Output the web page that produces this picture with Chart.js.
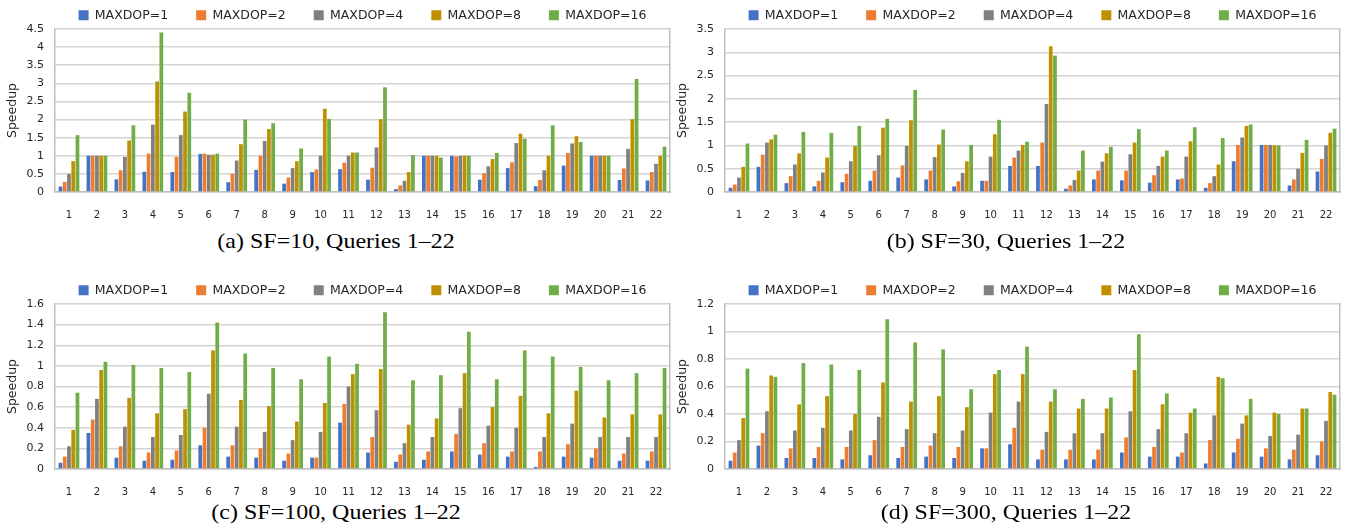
<!DOCTYPE html>
<html>
<head>
<meta charset="utf-8">
<script src="https://cdn.jsdelivr.net/npm/chart.js@4.4.1/dist/chart.umd.min.js"></script>
<style>
  body { margin: 0; overflow: hidden; background: #fff; }
  #page { position: relative; width: 1348px; height: 529px; overflow: hidden; }
  canvas { position: absolute; }
  .cap {
    position: absolute; width: 400px; height: 24px; line-height: 24px;
    text-align: center; font-family: "Liberation Serif", serif; font-size: 22px;
    color: #000; transform: scaleX(1.09); white-space: nowrap;
  }
</style>
</head>
<body>
<div id="page">
  <canvas id="sf10" width="725" height="239" style="left:0;top:-19px"></canvas>
  <canvas id="sf30" width="725" height="239" style="left:670px;top:-19px"></canvas>
  <canvas id="sf100" width="725" height="241" style="left:0;top:256px"></canvas>
  <canvas id="sf300" width="725" height="241" style="left:670px;top:256px"></canvas>
  <div class="cap" style="left:136px;top:229px">(a) SF=10, Queries 1–22</div>
  <div class="cap" style="left:806px;top:229px">(b) SF=30, Queries 1–22</div>
  <div class="cap" style="left:136px;top:500px">(c) SF=100, Queries 1–22</div>
  <div class="cap" style="left:806px;top:500px">(d) SF=300, Queries 1–22</div>
</div>
<script>
// categories and series
const queries = ["1", "2", "3", "4", "5", "6", "7", "8", "9", "10", "11",
                 "12", "13", "14", "15", "16", "17", "18", "19", "20", "21", "22"];
const seriesNames = ["MAXDOP=1", "MAXDOP=2", "MAXDOP=4", "MAXDOP=8", "MAXDOP=16"];
const colors = ["#4472C4", "#ED7D31", "#808080", "#BF9000", "#70AD47"];

// y axis ranges per panel (a, b, c, d)
const yMax = [4.5, 3.5, 1.6, 1.2];
const yStep = [0.5, 0.5, 0.2, 0.2];

// SF=10
const sf10Dop1 = [0.15, 1.0, 0.35, 0.56, 0.55, 1.05, 0.27, 0.61, 0.23, 0.55, 0.63, 0.34, 0.08, 1.0, 1.0, 0.34, 0.66, 0.16, 0.73, 1.0, 0.33, 0.32];
const sf10Dop2 = [0.28, 1.0, 0.6, 1.06, 0.97, 1.06, 0.5, 1.0, 0.4, 0.62, 0.81, 0.67, 0.18, 1.0, 0.98, 0.52, 0.82, 0.33, 1.08, 1.0, 0.65, 0.55];
const sf10Dop4 = [0.5, 1.0, 0.97, 1.86, 1.57, 1.03, 0.87, 1.41, 0.66, 1.0, 1.0, 1.23, 0.31, 1.0, 1.0, 0.71, 1.35, 0.6, 1.34, 1.0, 1.19, 0.78];
const sf10Dop8 = [0.85, 1.0, 1.42, 3.05, 2.22, 1.03, 1.32, 1.74, 0.85, 2.3, 1.09, 2.01, 0.55, 1.0, 1.0, 0.91, 1.61, 1.0, 1.54, 1.0, 2.01, 1.0];
const sf10Dop16 = [1.57, 1.0, 1.84, 4.4, 2.74, 1.06, 2.0, 1.9, 1.2, 2.02, 1.09, 2.89, 1.02, 0.95, 1.0, 1.08, 1.47, 1.84, 1.38, 1.0, 3.12, 1.25];

// SF=30
const sf30Dop1 = [0.09, 0.54, 0.19, 0.12, 0.21, 0.24, 0.31, 0.27, 0.12, 0.24, 0.56, 0.56, 0.07, 0.27, 0.25, 0.2, 0.27, 0.09, 0.66, 1.01, 0.14, 0.44];
const sf30Dop2 = [0.16, 0.8, 0.34, 0.24, 0.39, 0.46, 0.57, 0.46, 0.23, 0.24, 0.74, 1.06, 0.14, 0.46, 0.46, 0.36, 0.29, 0.19, 1.01, 1.01, 0.27, 0.71];
const sf30Dop4 = [0.31, 1.06, 0.59, 0.42, 0.66, 0.79, 0.99, 0.75, 0.41, 0.76, 0.89, 1.89, 0.26, 0.65, 0.81, 0.56, 0.76, 0.34, 1.17, 1.01, 0.5, 1.0];
const sf30Dop8 = [0.54, 1.13, 0.83, 0.74, 0.99, 1.38, 1.54, 1.02, 0.66, 1.24, 1.01, 3.13, 0.46, 0.83, 1.06, 0.76, 1.09, 0.59, 1.42, 1.0, 0.84, 1.27];
const sf30Dop16 = [1.04, 1.23, 1.29, 1.27, 1.42, 1.57, 2.19, 1.34, 1.01, 1.55, 1.08, 2.93, 0.89, 0.97, 1.35, 0.89, 1.39, 1.16, 1.45, 1.0, 1.12, 1.36];

// SF=100
const sf100Dop1 = [0.06, 0.35, 0.11, 0.08, 0.09, 0.23, 0.12, 0.11, 0.08, 0.11, 0.45, 0.16, 0.07, 0.09, 0.17, 0.14, 0.12, 0.02, 0.12, 0.11, 0.08, 0.08];
const sf100Dop2 = [0.12, 0.48, 0.22, 0.16, 0.18, 0.4, 0.23, 0.2, 0.15, 0.11, 0.63, 0.31, 0.14, 0.17, 0.34, 0.25, 0.17, 0.17, 0.24, 0.2, 0.15, 0.17];
const sf100Dop4 = [0.22, 0.68, 0.41, 0.31, 0.33, 0.73, 0.41, 0.36, 0.28, 0.36, 0.8, 0.57, 0.25, 0.31, 0.59, 0.42, 0.4, 0.31, 0.44, 0.31, 0.31, 0.31];
const sf100Dop8 = [0.38, 0.96, 0.69, 0.54, 0.58, 1.15, 0.67, 0.61, 0.46, 0.64, 0.92, 0.97, 0.43, 0.49, 0.93, 0.6, 0.71, 0.54, 0.76, 0.5, 0.53, 0.53];
const sf100Dop16 = [0.74, 1.04, 1.01, 0.98, 0.94, 1.42, 1.12, 0.98, 0.87, 1.09, 1.02, 1.52, 0.86, 0.91, 1.33, 0.87, 1.15, 1.09, 0.99, 0.86, 0.93, 0.98];

// SF=300
const sf300Dop1 = [0.06, 0.17, 0.08, 0.08, 0.07, 0.1, 0.08, 0.09, 0.08, 0.15, 0.18, 0.07, 0.07, 0.07, 0.12, 0.09, 0.09, 0.04, 0.12, 0.09, 0.07, 0.1];
const sf300Dop2 = [0.12, 0.26, 0.15, 0.16, 0.16, 0.21, 0.16, 0.17, 0.16, 0.15, 0.3, 0.14, 0.14, 0.14, 0.23, 0.16, 0.12, 0.21, 0.22, 0.15, 0.14, 0.2];
const sf300Dop4 = [0.21, 0.42, 0.28, 0.3, 0.28, 0.38, 0.29, 0.26, 0.28, 0.41, 0.49, 0.27, 0.26, 0.26, 0.42, 0.29, 0.26, 0.39, 0.33, 0.24, 0.25, 0.35];
const sf300Dop8 = [0.37, 0.68, 0.47, 0.53, 0.4, 0.63, 0.49, 0.53, 0.45, 0.69, 0.69, 0.49, 0.44, 0.44, 0.72, 0.47, 0.41, 0.67, 0.39, 0.41, 0.44, 0.56];
const sf300Dop16 = [0.73, 0.67, 0.77, 0.76, 0.72, 1.09, 0.92, 0.87, 0.58, 0.72, 0.89, 0.58, 0.51, 0.52, 0.98, 0.55, 0.44, 0.66, 0.51, 0.4, 0.44, 0.54];

Chart.defaults.font.family = "'DejaVu Sans', sans-serif";
const gridColor = "#d4d4d4";
const axisColor = "#bfbfbf";
const textColor = "#262626";

function makeChart(id, series, max, step) {
  return new Chart(document.getElementById(id), {
    type: "bar",
    data: {
      labels: queries,
      datasets: series.map((d, i) => ({
        label: seriesNames[i],
        data: d,
        backgroundColor: colors[i],
        borderWidth: 0,
        categoryPercentage: 0.76,
        barPercentage: 0.88,
      })),
    },
    options: {
      responsive: false,
      animation: false,
      layout: { padding: 0 },
      plugins: {
        tooltip: { enabled: false },
        legend: {
          position: "top",
          maxHeight: 48,
          labels: { boxWidth: 10, boxHeight: 10, padding: 28, color: textColor, font: { size: 12.5 } },
        },
      },
      scales: {
        x: {
          grid: { display: false },
          border: { color: axisColor, width: 1.5 },
          ticks: { color: textColor, font: { size: 10 }, padding: 9, maxRotation: 0, autoSkip: false },
          afterFit: (s) => { s.height = 28; },
        },
        y: {
          min: 0,
          max: max,
          ticks: {
            stepSize: step,
            padding: 11,
            color: textColor,
            font: { size: 11 },
            callback: (v) => String(Number(v.toFixed(1))),
          },
          grid: { color: gridColor, lineWidth: 1.5, drawTicks: false },
          border: { color: axisColor, width: 1.5 },
          title: { display: true, text: "Speedup", color: textColor, font: { size: 12.5 }, padding: { top: 5, bottom: 0 } },
          afterFit: (s) => { s.width = 55; },
        },
        // empty right axis: keeps the legend centred over the plot and draws the right frame
        y2: {
          type: "linear",
          position: "right",
          grid: { display: false },
          ticks: { display: false },
          border: { color: axisColor, width: 1.5 },
          afterFit: (s) => { s.width = 55; },
        },
      },
    },
  });
}

makeChart("sf10", [sf10Dop1, sf10Dop2, sf10Dop4, sf10Dop8, sf10Dop16], yMax[0], yStep[0]);
makeChart("sf30", [sf30Dop1, sf30Dop2, sf30Dop4, sf30Dop8, sf30Dop16], yMax[1], yStep[1]);
makeChart("sf100", [sf100Dop1, sf100Dop2, sf100Dop4, sf100Dop8, sf100Dop16], yMax[2], yStep[2]);
makeChart("sf300", [sf300Dop1, sf300Dop2, sf300Dop4, sf300Dop8, sf300Dop16], yMax[3], yStep[3]);
</script>
</body>
</html>
